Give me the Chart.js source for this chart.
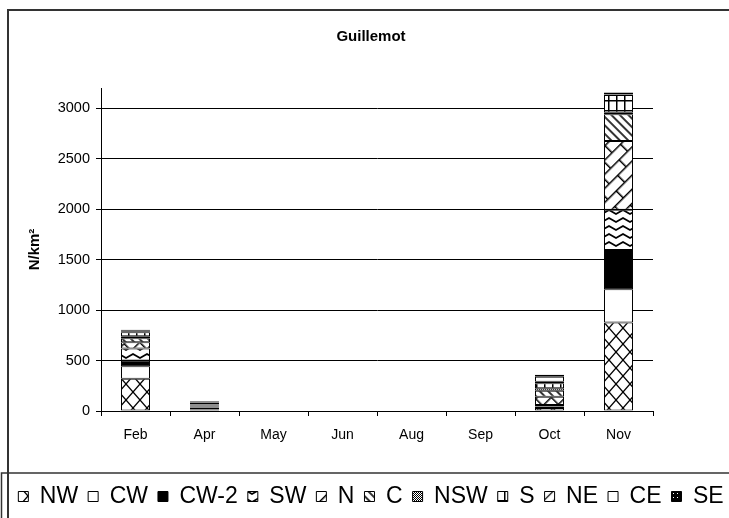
<!DOCTYPE html>
<html>
<head>
<meta charset="utf-8">
<script src="https://cdn.jsdelivr.net/npm/chart.js@4/dist/chart.umd.min.js"></script>
<style>
  html, body { margin: 0; padding: 0; background: #fff; overflow: hidden; }
  #wrap { position: absolute; left: 0; top: 0; width: 742px; height: 518px; }
</style>
</head>
<body>
<div id="wrap"><canvas id="c" width="742" height="518"></canvas></div>
<script>
// Survey months and densities (N/km²) per area, stacked per month
const months = ['Feb', 'Apr', 'May', 'Jun', 'Aug', 'Sep', 'Oct', 'Nov'];
const areaNames = ['NW', 'CW', 'CW-2', 'SW', 'N', 'C', 'NSW', 'S', 'NE', 'CE', 'SE'];

const NW   = [320, 15, 0, 0, 0, 0, 30, 877];
const CW   = [123,  5, 0, 0, 0, 0, 10, 329];
const CW2  = [ 57, 15, 0, 0, 0, 0,  5, 389];
const SW   = [118, 10, 0, 0, 0, 0, 15, 400];
const N    = [ 62, 10, 0, 0, 0, 0, 80, 680];
const C    = [ 40, 10, 0, 0, 0, 0, 60, 265];
const NSW  = [ 20,  5, 0, 0, 0, 0, 25,  15];
const S    = [ 40, 15, 0, 0, 0, 0, 50, 175];
const NE   = [ 10,  5, 0, 0, 0, 0, 15,   5];
const CE   = [ 10,  5, 0, 0, 0, 0, 50,  15];
const SE   = [  5,  5, 0, 0, 0, 0, 20,   5];

const yTickValues = [0, 500, 1000, 1500, 2000, 2500, 3000];
const yMax = 3200;

const FONT = "'Liberation Sans', Arial, sans-serif";
const canvas = document.getElementById('c');
const mainCtx = canvas.getContext('2d');

// Monochrome fill patterns, one per area
function makePattern(w, h, draw, rotation) {
  const t = document.createElement('canvas');
  t.width = w; t.height = h;
  const g = t.getContext('2d');
  g.fillStyle = '#fff';
  g.fillRect(0, 0, w, h);
  g.strokeStyle = '#000';
  g.fillStyle = '#000';
  draw(g, w, h);
  const p = mainCtx.createPattern(t, 'repeat');
  if (rotation) p.setTransform(new DOMMatrix().rotate(rotation));
  return p;
}
function line(g, x1, y1, x2, y2, lw) {
  g.lineWidth = lw; g.beginPath(); g.moveTo(x1, y1); g.lineTo(x2, y2); g.stroke();
}

const fills = {
  NW: makePattern(14, 16, (g, w, h) => {
    line(g, 0, 0, w, h, 1.3); line(g, w, 0, 0, h, 1.3);
  }),
  CW: '#fff',
  CW2: '#000',
  SW: makePattern(14, 8, (g) => {
    g.lineWidth = 1.8; g.beginPath();
    g.moveTo(-1, 6.6); g.lineTo(7, 2); g.lineTo(15, 6.6); g.stroke();
  }),
  N: makePattern(24, 20, (g) => {
    line(g, 0, 0.75, 24, 0.75, 1.5); line(g, 0, 10.75, 24, 10.75, 1.5);
    line(g, 0.75, 0, 0.75, 10, 1.5); line(g, 12.75, 10, 12.75, 20, 1.5);
  }, -45),
  C: makePattern(6, 6, (g) => { line(g, 0, 3, 6, 3, 1.6); }, 45),
  NSW: makePattern(2, 2, (g) => { g.fillRect(0, 0, 1, 1); g.fillRect(1, 1, 1, 1); }),
  S: makePattern(8, 10, (g) => { line(g, 0.75, 0, 0.75, 10, 1.5); line(g, 0, 0.75, 8, 0.75, 1.5); }),
  NE: makePattern(7, 7, (g) => { line(g, 0, 3.5, 7, 3.5, 1.3); }, -45),
  CE: '#fff',
  SE: makePattern(4, 4, (g) => { g.fillRect(0, 0, 4, 4); g.fillStyle = '#fff'; g.fillRect(1, 1, 1, 1); })
};

const seriesValues = [NW, CW, CW2, SW, N, C, NSW, S, NE, CE, SE];
const seriesFills = [fills.NW, fills.CW, fills.CW2, fills.SW, fills.N, fills.C, fills.NSW, fills.S, fills.NE, fills.CE, fills.SE];

const datasets = areaNames.map((name, i) => ({
  label: name,
  data: seriesValues[i],
  backgroundColor: seriesFills[i],
  borderColor: '#000',
  borderWidth: 1,
  borderSkipped: false
}));

// Page frame and legend box
const framePlugin = {
  id: 'frame',
  beforeDraw(chart) {
    const ctx = chart.ctx;
    ctx.save();
    ctx.fillStyle = '#fff';
    ctx.fillRect(0, 0, chart.width, chart.height);
    ctx.strokeStyle = '#333';
    ctx.lineWidth = 2;
    ctx.strokeRect(8, 10, chart.width + 40, chart.height + 40);
    ctx.lineWidth = 1.5;
    ctx.strokeRect(1.5, 473, chart.width + 40, 80);
    ctx.restore();
  }
};

new Chart(canvas, {
  type: 'bar',
  data: { labels: months, datasets },
  plugins: [framePlugin],
  options: {
    responsive: false,
    animation: false,
    layout: { padding: 0 },
    datasets: { bar: { categoryPercentage: 1, barPercentage: 0.42 } },
    plugins: {
      title: {
        display: true,
        text: 'Guillemot',
        color: '#000',
        font: { family: FONT, size: 15, weight: 'bold' },
        padding: { top: 28, bottom: 42 }
      },
      legend: {
        position: 'bottom',
        labels: {
          color: '#000',
          font: { family: FONT, size: 23 },
          boxWidth: 10,
          boxHeight: 10,
          padding: 10
        }
      },
      tooltip: { enabled: false }
    },
    scales: {
      x: {
        stacked: true,
        grid: { offset: true, drawOnChartArea: false, drawTicks: true, tickLength: 5, color: '#000' },
        border: { color: '#000', width: 1 },
        ticks: { color: '#000', font: { family: FONT, size: 14 }, padding: 11 },
        afterFit: (s) => { s.height = 64; }
      },
      y: {
        stacked: true,
        min: 0,
        max: yMax,
        afterBuildTicks: (s) => { s.ticks = yTickValues.map(v => ({ value: v })); },
        ticks: {
          color: '#000',
          font: { family: FONT, size: 14.5 },
          padding: 6,
          callback: (v) => String(v)
        },
        grid: { color: '#000', lineWidth: 1, tickLength: 5, drawTicks: true },
        border: { color: '#000', width: 1 },
        title: {
          display: true,
          text: 'N/km²',
          color: '#000',
          font: { family: FONT, size: 15, weight: 'bold' },
          padding: { top: 26, bottom: 0 }
        },
        afterFit: (s) => { s.width = 101; }
      },
      yR: {
        position: 'right',
        display: true,
        grid: { display: false, drawTicks: false },
        border: { display: false },
        ticks: { display: false },
        afterFit: (s) => { s.width = 89; }
      }
    }
  }
});
</script>
</body>
</html>
